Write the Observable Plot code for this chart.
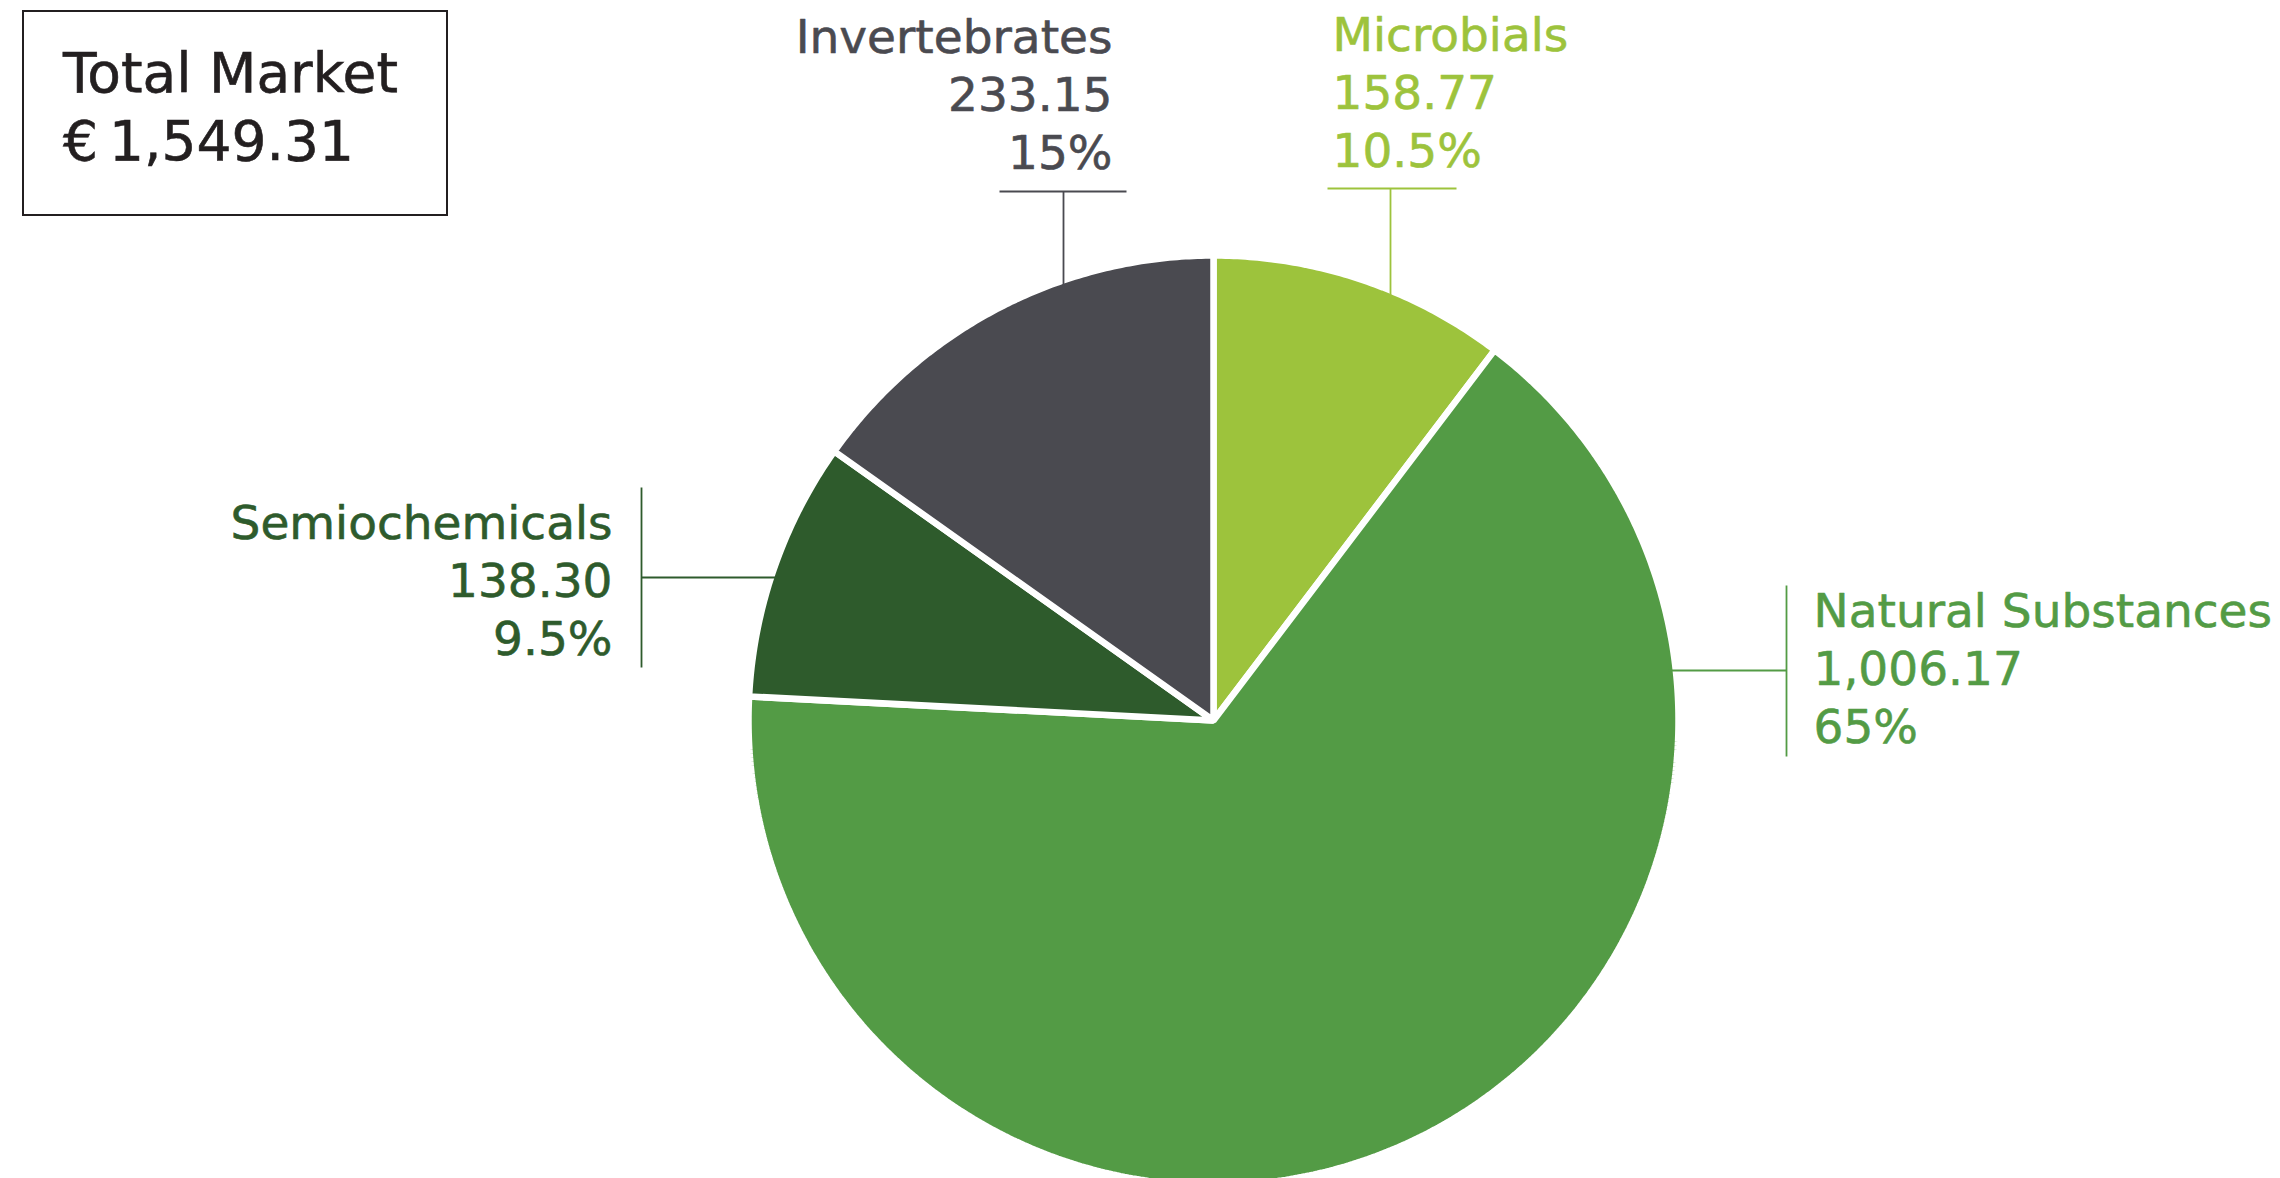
<!DOCTYPE html>
<html>
<head>
<meta charset="utf-8">
<script src="https://cdn.jsdelivr.net/npm/d3@7"></script>
<script src="https://cdn.jsdelivr.net/npm/@observablehq/plot@0.6"></script>
<style>
  html, body { margin: 0; padding: 0; background: #ffffff; overflow: hidden; }
  #wrap { position: relative; width: 2280px; height: 1178px; }
  #wrap svg { display: block; }
  #total {
    position: absolute; left: 22px; top: 10px; width: 426px; height: 206px;
    box-sizing: border-box; border: 2px solid #231f20;
    padding: 27px 0 0 39px;
    font-family: "DejaVu Sans", sans-serif; font-size: 55px; line-height: 68px;
    color: #231f20; white-space: nowrap;
    -webkit-text-stroke: 0.6px #231f20;
  }
</style>
</head>
<body>
<div id="wrap"><div id="total"></div></div>
<script>
// ---------- data ----------
const categories   = ["Microbials", "Natural Substances", "Semiochemicals", "Invertebrates"];
const values       = [158.77, 1006.17, 138.30, 233.15];
const valueLabels  = ["158.77", "1,006.17", "138.30", "233.15"];
const shareLabels  = ["10.5%", "65%", "9.5%", "15%"];
const totalTitle   = "Total Market";
const totalLabel   = "€\u20091,549.31";

// ---------- styles / layout ----------
const palette = ["#9dc33c", "#539b45", "#2e5b2c", "#4a4a50"];
const W = 2280, H = 1178;
const CX = 1213, CY = 720, R = 465;       // pie centre & radius (px)
const GAP = 6.5;                           // white separator width
const FONT = "DejaVu Sans, sans-serif";
const FS = 47, LH = 1.23;
// label placement: text anchor point = last baseline
const labelLayout = {
  "Microbials":         {tx: 1332, ty: 166, anchor: "start", kind: "v", bar: [1327, 1456], barAt: 188, stem: 1390},
  "Natural Substances": {tx: 1813, ty: 742, anchor: "start", kind: "h", bar: [585, 756],   barAt: 1786, stem: 670},
  "Semiochemicals":     {tx: 612,  ty: 654, anchor: "end",   kind: "h", bar: [487, 667],   barAt: 641,  stem: 577},
  "Invertebrates":      {tx: 1112, ty: 168, anchor: "end",   kind: "v", bar: [999, 1126],  barAt: 191,  stem: 1063}
};

// ---------- build tables ----------
const rows = categories.map((c, i) => ({category: c, value: values[i], valueLabel: valueLabels[i], share: shareLabels[i]}));
const arcs = d3.pie().sort(null).value(d => d.value).startAngle(0).endAngle(2 * Math.PI)(rows);

const slicePts = [];
for (const a of arcs) {
  const c = a.data.category;
  slicePts.push({category: c, x: CX, y: CY});
  const n = Math.max(8, Math.ceil((a.endAngle - a.startAngle) / (Math.PI / 360)));
  for (let k = 0; k <= n; k++) {
    const t = a.startAngle + (a.endAngle - a.startAngle) * k / n;
    slicePts.push({category: c, x: CX + R * Math.sin(t), y: CY - R * Math.cos(t)});
  }
}

const RIN = R - GAP / 2 - 4;  // leaders end just inside the visible slice edge
const leaders = [];
for (const r of rows) {
  const L = labelLayout[r.category];
  if (L.kind === "v") {
    leaders.push({category: r.category, x1: L.bar[0], x2: L.bar[1], y1: L.barAt, y2: L.barAt});
    const dy = Math.sqrt(RIN * RIN - (L.stem - CX) ** 2);
    leaders.push({category: r.category, x1: L.stem, x2: L.stem, y1: L.barAt, y2: CY - dy});
  } else {
    leaders.push({category: r.category, x1: L.barAt, x2: L.barAt, y1: L.bar[0], y2: L.bar[1]});
    const dx = Math.sqrt(RIN * RIN - (L.stem - CY) ** 2);
    const edge = L.barAt < CX ? CX - dx : CX + dx;
    leaders.push({category: r.category, x1: L.barAt, x2: edge, y1: L.stem, y2: L.stem});
  }
}

const labelText = d => `${d.category}\n${d.valueLabel}\n${d.share}`;
const lx = d => labelLayout[d.category].tx;
const ly = d => labelLayout[d.category].ty;
const textOpts = {x: lx, y: ly, text: labelText, fill: "category", stroke: "category", strokeWidth: 0.6,
                  lineAnchor: "bottom", lineHeight: LH, fontSize: FS, fontFamily: FONT};

const chart = Plot.plot({
  width: W, height: H,
  margin: 0,
  x: {domain: [0, W], range: [0, W], axis: null},
  y: {domain: [0, H], range: [0, H], axis: null},
  color: {domain: categories, range: palette},
  style: {background: "transparent", fontFamily: FONT},
  marks: [
    Plot.line(slicePts, {x: "x", y: "y", z: "category", fill: "category", stroke: "#ffffff",
                         strokeWidth: GAP, curve: "linear-closed", strokeLinejoin: "miter"}),
    Plot.link(leaders, {x1: "x1", y1: "y1", x2: "x2", y2: "y2", stroke: "category", strokeWidth: 1.8}),
    Plot.text(rows.filter(d => labelLayout[d.category].anchor === "start"), {...textOpts, textAnchor: "start"}),
    Plot.text(rows.filter(d => labelLayout[d.category].anchor === "end"), {...textOpts, textAnchor: "end"})
  ]
});

const wrap = document.getElementById("wrap");
wrap.insertBefore(chart, wrap.firstChild);
document.getElementById("total").innerHTML = `<div>${totalTitle}</div><div>${totalLabel}</div>`;
</script>
</body>
</html>
